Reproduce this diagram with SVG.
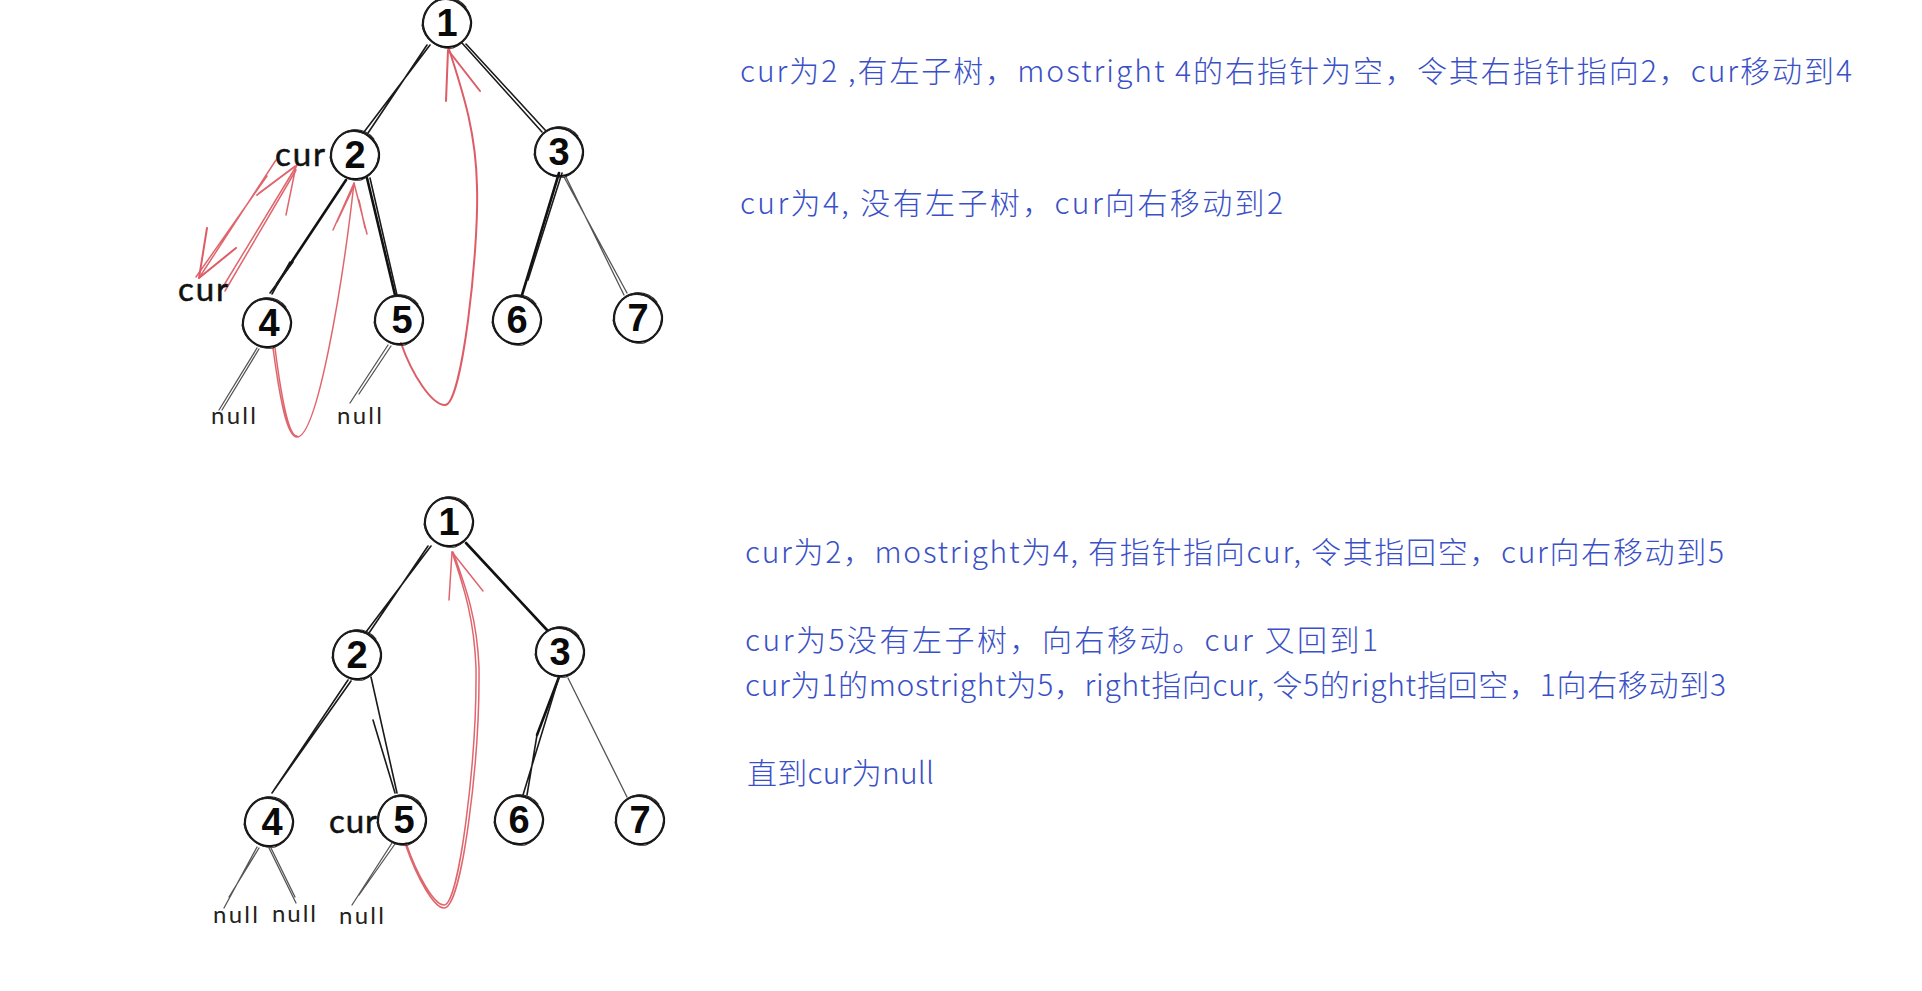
<svg xmlns="http://www.w3.org/2000/svg" width="1922" height="991" viewBox="0 0 1922 991">
<style>
.bg{fill:#fff}
.ring{fill:none;stroke:#111;stroke-width:2.2;stroke-linecap:round}
.ring2{fill:none;stroke:#222;stroke-width:1.1;stroke-linecap:round}
.digit{font-family:"Liberation Sans",sans-serif;font-weight:700;font-size:38px;fill:#0a0a0a;text-anchor:middle}
.cur{font-family:"Lato","Liberation Sans",sans-serif;font-size:33px;font-weight:400;fill:#111;stroke:#111;stroke-width:.5}
.null{font-family:"Lato","Liberation Sans",sans-serif;font-size:24px;fill:#222}
.note{font-family:"Noto Sans CJK SC","Noto Sans",sans-serif;font-size:30px;font-weight:300;fill:#3a50c6}
.e{fill:none;stroke:#1a1a1a;stroke-width:1.6;stroke-linecap:round}
.eb{fill:none;stroke:#111;stroke-width:2.6;stroke-linecap:round}
.eg{fill:none;stroke:#555;stroke-width:1.3;stroke-linecap:round}
.r{fill:none;stroke:#e0666e;stroke-width:1.5;stroke-linecap:round;stroke-linejoin:round}
.rb{fill:none;stroke:#dd5c66;stroke-width:2;stroke-linecap:round;stroke-linejoin:round}
</style>
<defs>
<g id="ring">
<path class="ring" d="M-5 -24C8 -26 22 -16 24 -2C25 10 16 23 2 24C-10 25 -22 16 -24 3C-25 -10 -16 -22 -5 -24Z"/>
<path class="ring2" d="M-15 -19C-4 -27 15 -24 22 -10C27 3 20 20 6 25C-8 27 -23 17 -25 2"/>
<path class="ring2" d="M-23 8C-27 -6 -18 -23 -3 -25C6 -26 14 -22 19 -16"/>
</g>
</defs>
<rect class="bg" width="1922" height="991"/>
<g id="connectors" transform="translate(-3 0)">
<path class="e" d="M433 45L367 132M430 45L371 133"/>
<path class="e" d="M465 43L545 132M469 44L549 131"/>
<path class="eb" d="M349 180L280 284"/><path class="e" d="M296 262L273 293M293 262L275 294"/>
<path class="eb" d="M370 178L398 295"/><path class="e" d="M373 178L400 295"/>
<path class="eb" d="M562 173L525 295"/><path class="e" d="M565 173L531 280"/>
<path class="eg" d="M569 177L627 295M567 177L630 293"/>
<path class="eg" d="M260 348L222 410M262 349L225 410"/>
<path class="eg" d="M391 345L353 403M394 346L362 394"/>
<path class="r" d="M276 348C283 400 290 437 300 437C320 437 345 290 357 183M278 348C284 395 291 436 300 436"/>
<path class="r" d="M336 230L357 183L370 234M340 222L357 186M362 200L368 228"/>
<path class="rb" d="M404 343C415 375 435 405 448 405C465 405 482 250 480 187C479 130 465 90 452 49"/>
<path class="rb" d="M449 101L451 50L483 91"/>
<path class="r" d="M279 160L202 278M270 176L199 277M260 195L298 166L262 193"/>
<path class="rb" d="M210 228L202 278L239 248"/>
<path class="r" d="M224 290L300 165M228 291L299 170"/>
<path class="r" d="M289 215L299 166L260 195"/>
<path class="e" d="M434 546L369 632M431 546L372 633"/>
<path class="eb" d="M469 543L550 630"/>
<path class="e" d="M351 680L277 790M354 681L275 793"/>
<path class="e" d="M374 677L400 793M376 720L398 793"/>
<path class="eb" d="M562 677L540 735"/><path class="e" d="M562 677L526 795M540 735L530 795"/>
<path class="eg" d="M571 678L630 797"/>
<path class="eg" d="M260 847L227 908M262 848L232 897"/>
<path class="eg" d="M272 848L299 903M274 848L298 897"/>
<path class="eg" d="M395 843L355 905M398 844L362 895"/>
<path class="r" d="M409 843C420 875 437 905 447 905C462 905 480 760 479 667C477 620 468 590 455 552M409 846C420 878 437 908 447 908C465 908 483 760 482 667C480 620 470 590 456 552"/>
<path class="r" d="M452 600L455 552L486 591"/>
</g>
<g id="t1-n1"><use href="#ring" x="447" y="23"/><text class="digit" x="447" y="36">1</text></g>
<g id="t1-n2"><use href="#ring" x="355" y="155"/><text class="digit" x="355" y="168">2</text></g>
<g id="t1-n3"><use href="#ring" x="559" y="152"/><text class="digit" x="559" y="165">3</text></g>
<g id="t1-n4"><use href="#ring" x="267" y="323"/><text class="digit" x="269" y="336">4</text></g>
<g id="t1-n5"><use href="#ring" x="399" y="320"/><text class="digit" x="402" y="333">5</text></g>
<g id="t1-n6"><use href="#ring" x="517" y="320"/><text class="digit" x="517" y="333">6</text></g>
<g id="t1-n7"><use href="#ring" x="638" y="318"/><text class="digit" x="638" y="331">7</text></g>
<g id="t2-n1"><use href="#ring" x="449" y="522"/><text class="digit" x="449" y="535">1</text></g>
<g id="t2-n2"><use href="#ring" x="357" y="655"/><text class="digit" x="357" y="668">2</text></g>
<g id="t2-n3"><use href="#ring" x="560" y="652"/><text class="digit" x="560" y="665">3</text></g>
<g id="t2-n4"><use href="#ring" x="269" y="822"/><text class="digit" x="272" y="835">4</text></g>
<g id="t2-n5"><use href="#ring" x="402" y="820"/><text class="digit" x="404" y="833">5</text></g>
<g id="t2-n6"><use href="#ring" x="519" y="820"/><text class="digit" x="519" y="833">6</text></g>
<g id="t2-n7"><use href="#ring" x="640" y="820"/><text class="digit" x="640" y="833">7</text></g>
<g id="labels">
<text class="cur" x="275" y="166" textLength="50">cur</text>
<text class="cur" x="178" y="301" textLength="50">cur</text>
<text class="cur" x="329" y="833" textLength="48">cur</text>
<text class="null" x="211" y="424" textLength="45">null</text>
<text class="null" x="337" y="424" textLength="45">null</text>
<text class="null" x="213" y="923" textLength="45">null</text>
<text class="null" x="272" y="922" textLength="44">null</text>
<text class="null" x="339" y="924" textLength="45">null</text>
</g>
<g id="notes">
<text class="note" x="740" y="82" textLength="1112">cur为2 ,有左子树，mostright 4的右指针为空，令其右指针指向2，cur移动到4</text>
<text class="note" x="740" y="214" textLength="543">cur为4, 没有左子树，cur向右移动到2</text>
<text class="note" x="745" y="563" textLength="979">cur为2，mostright为4, 有指针指向cur, 令其指回空，cur向右移动到5</text>
<text class="note" x="745" y="651" textLength="633">cur为5没有左子树，向右移动。cur 又回到1</text>
<text class="note" x="745" y="696" textLength="981">cur为1的mostright为5，right指向cur, 令5的right指回空，1向右移动到3</text>
<text class="note" x="747" y="784" textLength="187">直到cur为null</text>
</g>
</svg>
